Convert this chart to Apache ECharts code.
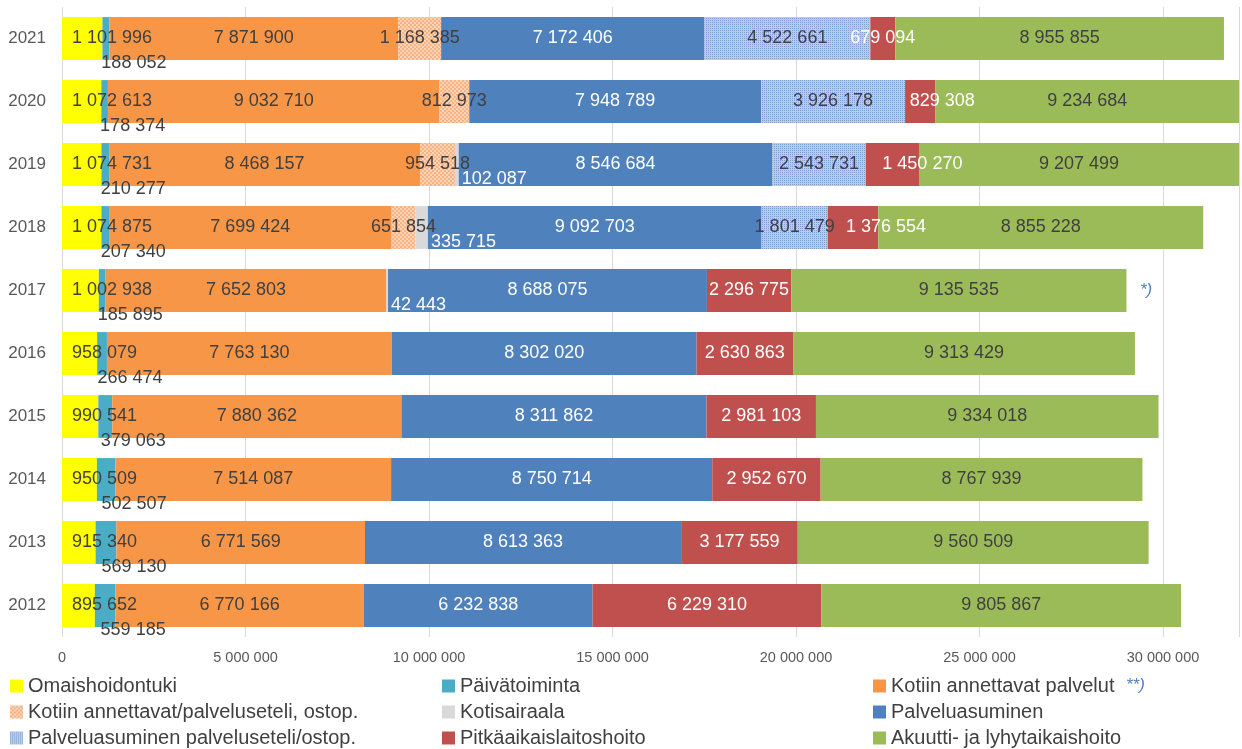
<!DOCTYPE html>
<html>
<head>
<meta charset="utf-8">
<script src="https://cdn.jsdelivr.net/npm/echarts@6/dist/echarts.min.js"></script>
<style>
  html, body { margin: 0; padding: 0; background: #fff; }
  #boot { width: 1242px; height: 749px; }
</style>
</head>
<body>
<div id="boot"></div>
<script>
// vuodet alhaalta ylös
var years = ['2012', '2013', '2014', '2015', '2016', '2017', '2018', '2019', '2020', '2021'];

var omaishoidontuki = [895652, 915340, 950509, 990541, 958079, 1002938, 1074875, 1074731, 1072613, 1101996];
var paivatoiminta = [559185, 569130, 502507, 379063, 266474, 185895, 207340, 210277, 178374, 188052];
var kotiinPalvelut = [6770166, 6771569, 7514087, 7880362, 7763130, 7652803, 7699424, 8468157, 9032710, 7871900];
var kotiinOstop = [null, null, null, null, null, null, 651854, 954518, 812973, 1168385];
var kotisairaala = [null, null, null, null, null, 42443, 335715, 102087, null, null];
var palveluasuminen = [6232838, 8613363, 8750714, 8311862, 8302020, 8688075, 9092703, 8546684, 7948789, 7172406];
var palveluasuminenOstop = [null, null, null, null, null, null, 1801479, 2543731, 3926178, 4522661];
var pitkaaikais = [6229310, 3177559, 2952670, 2981103, 2630863, 2296775, 1376554, 1450270, 829308, 679094];
var akuutti = [9805867, 9560509, 8767939, 9334018, 9313429, 9135535, 8855228, 9207499, 9234684, 8955855];

var xTicks = [0, 5000000, 10000000, 15000000, 20000000, 25000000, 30000000];

function fmt(v) {
    return String(v).replace(/\B(?=(\d{3})+(?!\d))/g, ' ');
}

// rasterikuviot (palveluseteli/ostopalvelut)
function makePattern(bg, fg, fn) {
    var c = document.createElement('canvas');
    c.width = 4; c.height = 4;
    var ctx = c.getContext('2d');
    ctx.fillStyle = bg;
    ctx.fillRect(0, 0, 4, 4);
    ctx.fillStyle = fg;
    for (var x = 0; x < 4; x++) {
        for (var y = 0; y < 4; y++) {
            if (fn(x, y)) ctx.fillRect(x, y, 1, 1);
        }
    }
    return { image: c, repeat: 'repeat' };
}
var orangePattern = makePattern('#F9B282', '#FBD3B6', function (x, y) {
    return (Math.floor(x / 2) + Math.floor(y / 2)) % 2 === 0;
});
var bluePattern = makePattern('#B9CCE6', '#7C9FCF', function (x, y) {
    return (x % 2 === 0 && y % 2 === 0);
});

var dark = '#404040';
var font = 'Liberation Sans';

function seg(name, data, color, label) {
    var lbl = {
        show: true,
        fontFamily: font,
        fontSize: 18,
        color: dark,
        formatter: function (p) { return fmt(p.value); }
    };
    for (var k in label) lbl[k] = label[k];
    return {
        name: name,
        type: 'bar',
        stack: 'total',
        barCategoryGap: '32%',
        clip: true,
        data: data,
        itemStyle: { color: color },
        label: lbl
    };
}

// Excel siirsi muutaman päällekkäisen arvon oikealle
var redLabelShift = { '2018': 33, '2019': 30, '2020': 22 };
var redSeries = seg('Pitkäaikaislaitoshoito', pitkaaikais, '#C0504D', { position: 'inside', color: '#ffffff' });
redSeries.data = pitkaaikais.map(function (v, i) {
    var s = redLabelShift[years[i]];
    return s ? { value: v, label: { offset: [s, 0] } } : v;
});

var myChart = echarts.init(document.getElementById('boot'));

var legendBase = {
    orient: 'vertical',
    icon: 'rect',
    itemWidth: 13,
    itemHeight: 13,
    itemGap: 6,
    selectedMode: false,
    textStyle: { fontFamily: font, fontSize: 20, color: '#404040', lineHeight: 20 },
    padding: 0,
    top: 676,
    height: 73
};
function legendCol(left, names) {
    var l = {};
    for (var k in legendBase) l[k] = legendBase[k];
    l.left = left;
    l.data = names;
    return l;
}

var option = {
    animation: false,
    backgroundColor: '#ffffff',
    grid: { left: 62, top: 7, height: 630, right: 0 },
    legend: [
        legendCol(10, ['Omaishoidontuki', 'Kotiin annettavat/palveluseteli, ostop.', 'Palveluasuminen palveluseteli/ostop.']),
        legendCol(442, ['Päivätoiminta', 'Kotisairaala', 'Pitkäaikaislaitoshoito']),
        legendCol(873, ['Kotiin annettavat palvelut', 'Palveluasuminen', 'Akuutti- ja lyhytaikaishoito'])
    ],
    xAxis: {
        type: 'value',
        min: 0,
        max: 32070000,
        interval: 5000000,
        axisLine: { show: false },
        axisTick: { show: false },
        splitLine: { lineStyle: { color: '#D9D9D9', width: 1 } },
        axisLabel: {
            margin: 13,
            fontFamily: font,
            fontSize: 14.5,
            color: '#595959',
            formatter: function (v) { return xTicks.indexOf(v) >= 0 ? fmt(v) : ''; }
        }
    },
    yAxis: {
        type: 'category',
        data: years,
        axisLine: { show: false },
        axisTick: { show: false },
        axisLabel: { margin: 16, fontFamily: font, fontSize: 17, color: '#595959' }
    },
    graphic: [
        { type: 'text', left: 1140, top: 282, style: { text: '*)', fontFamily: font, fontStyle: 'italic', fontSize: 17, fill: '#4F81BD' } },
        { type: 'text', left: 1126, top: 677, style: { text: '**)', fontFamily: font, fontStyle: 'italic', fontSize: 17, fill: '#4F81BD' } }
    ],
    series: [
        seg('Omaishoidontuki', omaishoidontuki, '#FFFF00', { position: 'insideLeft', distance: 10 }),
        seg('Päivätoiminta', paivatoiminta, '#4BACC6', { position: 'inside', offset: [28, 25] }),
        seg('Kotiin annettavat palvelut', kotiinPalvelut, '#F79646', { position: 'inside' }),
        seg('Kotiin annettavat/palveluseteli, ostop.', kotiinOstop, orangePattern, { position: 'inside' }),
        seg('Kotisairaala', kotisairaala, '#D9D9D9', { position: 'right', distance: 3, offset: [0, 15], color: '#ffffff' }),
        seg('Palveluasuminen', palveluasuminen, '#4F81BD', { position: 'inside', color: '#ffffff' }),
        seg('Palveluasuminen palveluseteli/ostop.', palveluasuminenOstop, bluePattern, { position: 'inside' }),
        redSeries,
        seg('Akuutti- ja lyhytaikaishoito', akuutti, '#9BBB59', { position: 'inside' })
    ]
};

myChart.setOption(option);
</script>
</body>
</html>
